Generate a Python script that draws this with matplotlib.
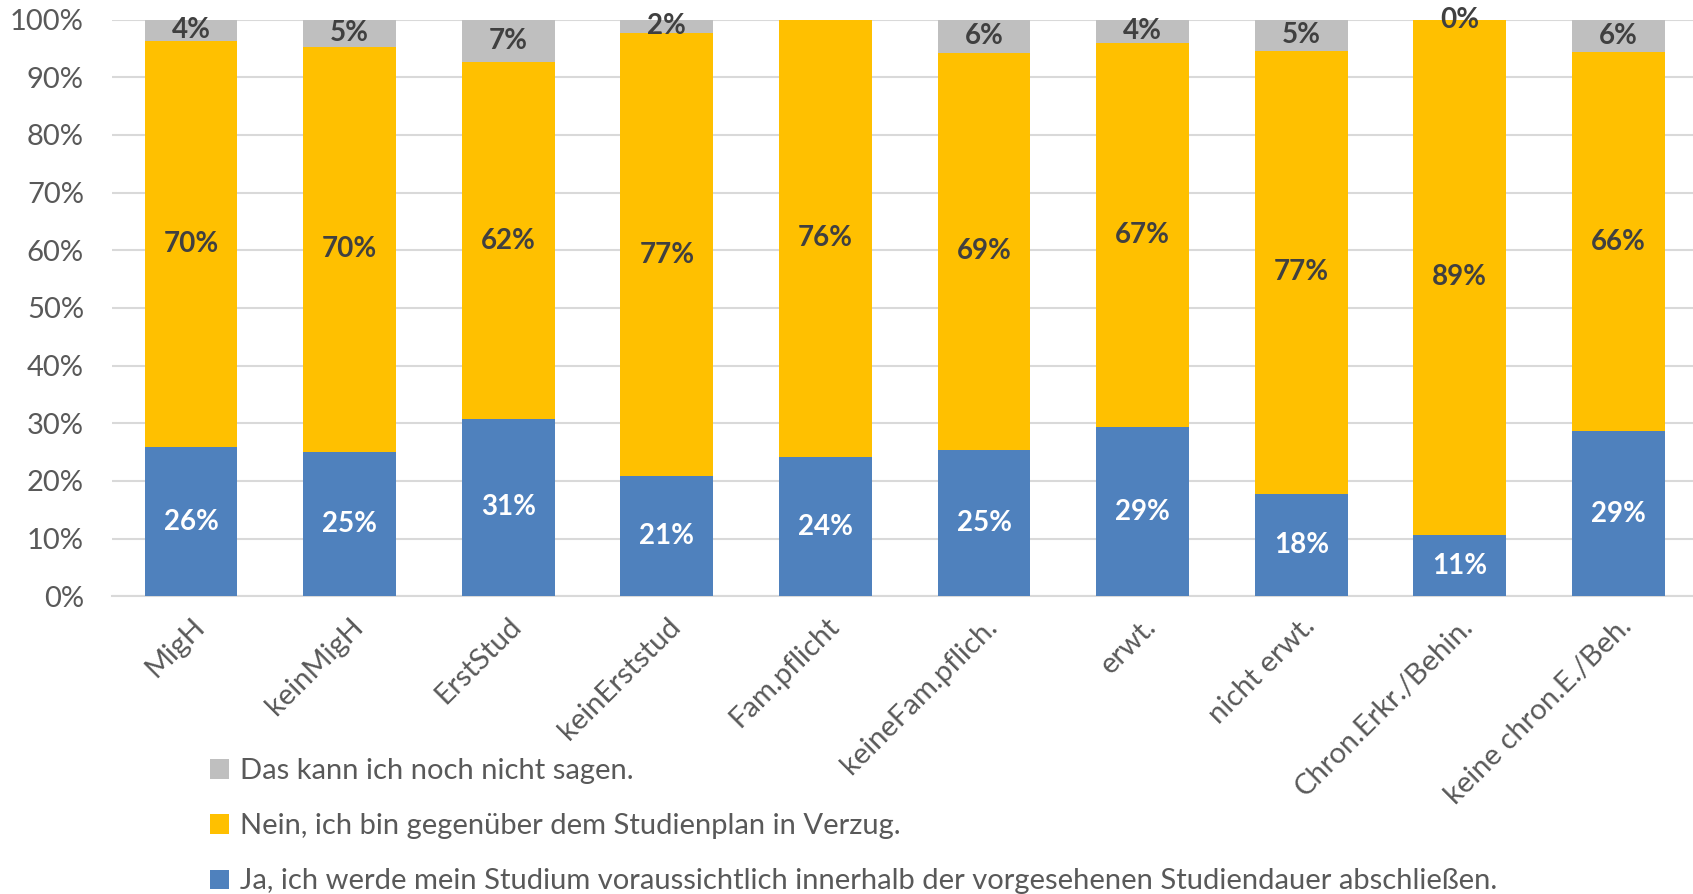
import matplotlib.pyplot as plt
from matplotlib.patches import Patch
import numpy as np

plt.rcParams['font.family'] = ['Lato', 'DejaVu Sans']

# Shares per group, in percent
groups = ['MigH', 'keinMigH', 'ErstStud', 'keinErststud', 'Fam.pflicht',
          'keineFam.pflich.', 'erwt.', 'nicht erwt.', 'Chron.Erkr./Behin.',
          'keine chron.E./Beh.']
ja = [25.9, 25.1, 30.8, 20.8, 24.1, 25.3, 29.3, 17.8, 10.6, 28.6]
nein = [70.4, 70.2, 61.8, 76.9, 75.9, 69.0, 66.7, 76.8, 89.4, 65.8]
weiss_nicht = [3.7, 4.7, 7.4, 2.3, np.nan, 5.7, 4.0, 5.4, 0.0, 5.6]

series_names = [
    'Ja, ich werde mein Studium voraussichtlich innerhalb der vorgesehenen Studiendauer abschließen.',
    'Nein, ich bin gegenüber dem Studienplan in Verzug.',
    'Das kann ich noch nicht sagen.',
]
colors = ['#4F81BD', '#FFC000', '#BFBFBF']
label_colors = ['white', '#404040', '#404040']

fig = plt.figure(figsize=(16.93, 8.94), dpi=100)
ax = fig.add_axes([0.066, 0.333, 0.934, 0.645])

x = np.arange(len(groups))
bottom = np.zeros(len(groups))
for vals, col, lcol in zip([ja, nein, weiss_nicht], colors, label_colors):
    v = np.array(vals, dtype=float)
    h = np.nan_to_num(v)
    ax.bar(x, h, bottom=bottom, width=0.585, color=col, zorder=3)
    for xi, b, val in zip(x, bottom, v):
        if np.isnan(val):
            continue
        ax.text(xi, b + val / 2, f'{val:.0f}%', ha='center', va='center',
                fontsize=20, fontweight='bold', color=lcol, zorder=4)
    bottom += h

ax.set_xlim(-0.5, 9.47)
ax.set_ylim(0, 100)
ax.set_yticks(np.arange(0, 101, 10))
ax.set_yticklabels([f'{t}%' for t in range(0, 101, 10)])
ax.yaxis.grid(True, color='#D9D9D9', linewidth=1.5, zorder=0)
ax.tick_params(axis='y', length=0, labelsize=21, labelcolor='#595959', pad=20)
ax.set_xticks(x)
ax.set_xticklabels(groups, rotation=45, ha='right', va='top',
                   rotation_mode='anchor', fontsize=21, color='#595959')
ax.tick_params(axis='x', length=0, pad=12)
for side in ['top', 'right', 'left']:
    ax.spines[side].set_visible(False)
ax.spines['bottom'].set_color('#D9D9D9')
ax.spines['bottom'].set_linewidth(1.5)

handles = [Patch(facecolor=c) for c in colors[::-1]]
fig.legend(handles, series_names[::-1], loc='upper left',
           bbox_to_anchor=(0.117, 0.165), frameon=False, fontsize=21,
           labelcolor='#595959', handlelength=0.65, handleheight=0.65,
           handletextpad=0.4, labelspacing=1.0, borderaxespad=0)

fig.savefig('out.png', dpi=100)
